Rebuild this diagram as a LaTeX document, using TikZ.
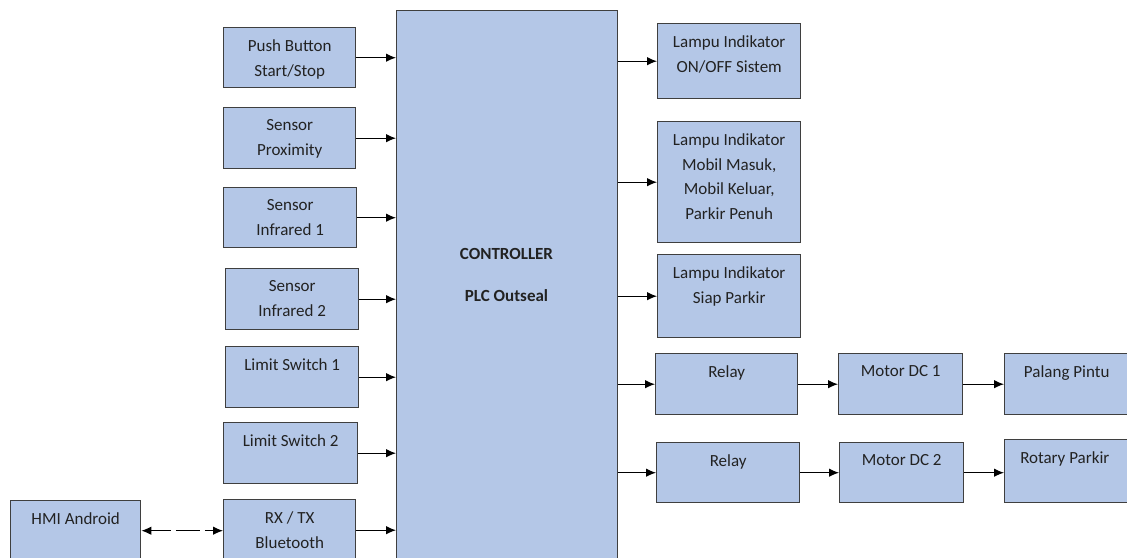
\documentclass[tikz,border=0pt]{standalone}
\usepackage{fontspec}
\setmainfont{Carlito}
\usetikzlibrary{arrows.meta}
\definecolor{boxblue}{HTML}{B4C7E7}
\definecolor{boxline}{HTML}{3F3F3F}
\definecolor{txt}{HTML}{222222}

\begin{document}
\begin{tikzpicture}[
      x=1pt, y=-1pt,
      every node/.style={font=\fontsize{17}{24.5}\selectfont, text=txt},
      box/.style={draw=boxline, fill=boxblue, line width=1.4pt, inner sep=0pt, anchor=north west},
      lbl/.style={align=center, inner sep=0pt, anchor=north},
      arr/.style={-{Latex[length=10pt,width=8.5pt]}, line width=1.1pt},
      dbl/.style={{Latex[length=10pt,width=8.5pt]}-{Latex[length=10pt,width=8.5pt]}, line width=1.1pt,
        dash pattern=on 20pt off 5pt on 24pt off 5pt}
    ]
    \clip (0,0) rectangle (1127,557);

    % controller
    \node[box, minimum width=221, minimum height=560] (ctrl) at (396,10) {};
    \node[lbl, font=\fontsize{17}{24.5}\selectfont\bfseries] (ctrl-t) at (506.5,248.5)
      {CONTROLLER\\[17pt]PLC Outseal};

    % inputs and outputs
    \foreach \n/\xa/\ya/\xb/\yb/\lab in {
      push/223/27/355/87/{Push Button\\Start/Stop},
      prox/223/107/355/168/{Sensor\\Proximity},
      ir1/223/187/356/247/{Sensor\\Infrared 1},
      ir2/225/268/358/329/{Sensor\\Infrared 2},
      ls1/225/346/358/407/{Limit Switch 1},
      ls2/223/422/357/483/{Limit Switch 2},
      rxtx/223/499/355/560/{RX / TX\\Bluetooth},
      hmi/10/500/140/560/{HMI Android},
      lon/657/23/800/98/{Lampu Indikator\\ON/OFF Sistem},
      lmob/657/121/800/242/{Lampu Indikator\\Mobil Masuk,\\Mobil Keluar,\\Parkir Penuh},
      lsiap/657/254/800/337/{Lampu Indikator\\Siap Parkir},
      rel1/655/353/797/414/{Relay},
      mot1/838/353/962/414/{Motor DC 1},
      pal/1004/353/1128/414/{Palang Pintu},
      rel2/656/442/799/502/{Relay},
      mot2/839/442/963/502/{Motor DC 2},
      rot/1004/439/1128/502/{Rotary Parkir}
    }{
      \node[box, minimum width=\xb-\xa, minimum height=\yb-\ya] (\n) at (\xa,\ya) {};
      \node[lbl] (\n-t) at ([yshift=-12.5pt]\n.north) {\lab};
    }

    \foreach \n in {push,prox,ir1,ir2,ls1,ls2,rxtx}
      \draw[arr] (\n.east) -- (\n.east -| ctrl.west);
    \foreach \n in {lon,lmob,lsiap,rel1,rel2}
      \draw[arr] (\n.west -| ctrl.east) -- (\n.west);

    \draw[arr] (rel1.east) -- (rel1.east -| mot1.west);
    \draw[arr] (mot1.east) -- (mot1.east -| pal.west);
    \draw[arr] (rel2.east) -- (rel2.east -| mot2.west);
    \draw[arr] (mot2.east) -- (mot2.east -| rot.west);

    \draw[dbl] (hmi.east) -- (hmi.east -| rxtx.west);
\end{tikzpicture}
\end{document}
